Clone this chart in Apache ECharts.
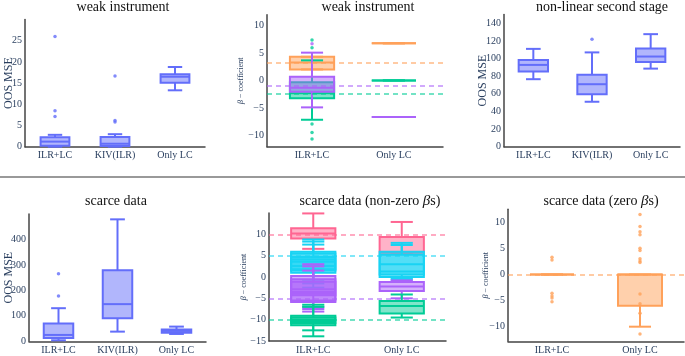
<!DOCTYPE html>
<html><head><meta charset="utf-8">
<script src="https://cdn.jsdelivr.net/npm/echarts@6/dist/echarts.min.js"></script>
<style>html,body{margin:0;padding:0;background:#fff}#c{width:685px;height:356px}</style>
</head><body><div id="c"></div>
<script>
// ---------------- DATA ----------------
const catsMSE = ['ILR+LC', 'KIV(ILR)', 'Only LC'];
const catsBeta = ['ILR+LC', 'Only LC'];

// box stats per category: [lower whisker, Q1, median, Q3, upper whisker]
// Panel 1: weak instrument (OOS MSE)
const weakMseBoxes = [[0.0, 0.25, 1.2, 2.2, 2.8], [0.0, 0.15, 0.7, 2.3, 2.95], [13.3, 15.1, 16.5, 17.1, 18.8]];
const weakMseOutliers = [[7.1, 8.5, 26.0], [5.8, 6.2, 16.7], []];

// Panel 2: weak instrument (beta coefficients)
const weakBetaOrange = [[2.05, 2.05, 3.3, 4.35, 4.35], [6.8, 6.8, 6.8, 6.8, 6.8]];
const weakBetaGreen = [[-7.1, -3.2, -2.3, -0.3, 3.7], [0.05, 0.05, 0.05, 0.05, 0.05]];
const weakBetaPurple = [[-4.85, -2.0, -1.3, 0.72, 5.1], [-6.6, -6.6, -6.6, -6.6, -6.6]];
const weakBetaGreenOut = [[7.4, 6.0, -7.85, -9.4, -10.6], []];
const weakBetaPurpleOut = [[6.7], []];
const weakBetaTrue = [3.3, -2.4, -0.85]; // orange, green, purple

// Panel 3: non-linear second stage (OOS MSE)
const nonlinBoxes = [[76.6, 85.2, 92.8, 98.5, 111], [51, 59.5, 70.9, 81.5, 107], [88.6, 96.2, 102.3, 111.4, 127.7]];
const nonlinOutliers = [[], [122], []];

// Panel 4: scarce data (OOS MSE)
const scarceMseBoxes = [[4, 13, 25, 70, 130], [38, 91, 146, 279, 479], [28.8, 34, 40.7, 46, 57.7]];
const scarceMseOutliers = [[177.6, 265.7], [], []];

// Panel 5: scarce data (non-zero betas) – several coefficients per colour, per category
const scarcePink = [[[6.6, 9.0, 10.2, 11.4, 14.9]], [[5.7, 5.7, 5.8, 9.4, 12.9]]];
const scarceCyan = [[[-2.5, 1.0, 3.6, 5.9, 8.8], [-1.5, 1.5, 4.1, 5.5, 8.3], [-1.0, 1.8, 2.6, 4.7, 7.6]],
                    [[-0.6, 0.0, 1.26, 5.9, 8.0], [-0.3, 0.6, 3.0, 5.2, 7.5]]];
const scarcePurple = [[[-7.5, -5.84, -3.5, 0.23, 3.0], [-8.1, -4.3, -2.9, -0.5, 2.5], [-7.0, -5.5, -3.9, -1.1, 1.5]],
                      [[-5.0, -3.27, -2.25, -1.17, -0.8]]];
const scarceGreen = [[[-13.9, -11.3, -10.1, -9.1, -6.5], [-12.5, -10.8, -10.3, -9.5, -7.0]],
                     [[-9.5, -8.55, -6.8, -5.6, -4.1]]];
const scarceTrue = [10, 5, -5, -10]; // pink, cyan, purple, green

// Panel 6: scarce data (zero betas)
const zeroBoxes = [[0, 0, 0, 0, 0], [-10.0, -6.0, 0, 0, 0]];
const zeroPoints = [[3.3, 2.8, -3.6, -4.1, -4.5, -5.2],
                    [11.5, 9.2, 8.2, 7.6, 5.05, 4.6, 3.0, 2.6, 2.3, -3.75, -5.6, -7.4, -11.4]];
const zeroTrue = [0];

const mseTicks = { p1: [0, 5, 10, 15, 20, 25], p3: [0, 20, 40, 60, 80, 100, 120, 140], p4: [0, 100, 200, 300, 400] };
const betaTicks = { p2: [-10, -5, 0, 5, 10], p5: [-15, -10, -5, 0, 5, 10], p6: [-10, -5, 0, 5, 10] };

// ---------------- STYLE ----------------
const BLUE = '#636EFA', ORANGE = '#FFA15A', PURPLE = '#AB63FA', GREEN = '#00CC96', PINK = '#FF6692', CYAN = '#19D3F3';
const SERIF = '"Liberation Serif", "Times New Roman", serif';
const TXT = '#2a3f5f';
const AXC = '#444';

function hexA(h, a) {
  const n = parseInt(h.slice(1), 16);
  return 'rgba(' + (n >> 16 & 255) + ',' + (n >> 8 & 255) + ',' + (n & 255) + ',' + a + ')';
}

function boxSeries(gi, rows, color, frac) {
  return {
    type: 'custom', xAxisIndex: gi, yAxisIndex: gi, z: 3,
    encode: { x: 0, y: [1, 2, 3, 4, 5] },
    data: rows,
    renderItem: function (params, api) {
      const x = api.value(0);
      const lo = api.coord([x, api.value(1)]), q1 = api.coord([x, api.value(2)]), md = api.coord([x, api.value(3)]),
            q3 = api.coord([x, api.value(4)]), hi = api.coord([x, api.value(5)]);
      const band = api.size([1, 0])[0];
      const hw = band * frac / 2, cw = hw / 2, cx = lo[0];
      const st = { stroke: color, lineWidth: 2, fill: null };
      return { type: 'group', children: [
        { type: 'line', shape: { x1: cx, y1: hi[1], x2: cx, y2: q3[1] }, style: st },
        { type: 'line', shape: { x1: cx, y1: q1[1], x2: cx, y2: lo[1] }, style: st },
        { type: 'line', shape: { x1: cx - cw, y1: hi[1], x2: cx + cw, y2: hi[1] }, style: st },
        { type: 'line', shape: { x1: cx - cw, y1: lo[1], x2: cx + cw, y2: lo[1] }, style: st },
        { type: 'rect', shape: { x: cx - hw, y: q3[1], width: 2 * hw, height: q1[1] - q3[1] }, style: { fill: hexA(color, 0.5), stroke: color, lineWidth: 2 } },
        { type: 'line', shape: { x1: cx - hw, y1: md[1], x2: cx + hw, y2: md[1] }, style: st }
      ] };
    }
  };
}
function rowsOf(boxes) { return boxes.map((b, i) => [i].concat(b)); }
function rowsMulti(perCat) { const r = []; perCat.forEach((list, i) => list.forEach(b => r.push([i].concat(b)))); return r; }
function ptsOf(perCat) { const r = []; perCat.forEach((list, i) => list.forEach(v => r.push([i, v]))); return r; }
function scatter(gi, pts, color, size) {
  return { type: 'scatter', xAxisIndex: gi, yAxisIndex: gi, z: 4, data: pts, symbol: 'circle', symbolSize: size || 3.5,
    itemStyle: { color: color }, silent: true };
}
function hline(gi, v, color) {
  return { type: 'line', xAxisIndex: gi, yAxisIndex: gi, data: [], z: 5,
    markLine: { silent: true, symbol: 'none', label: { show: false },
      lineStyle: { color: hexA(color, 0.55), type: [5, 4], width: 2 }, data: [{ yAxis: v }] } };
}
function xAx(gi, min, max, cats, fs) {
  return { type: 'value', gridIndex: gi, min: min, max: max,
    axisLine: { show: true, onZero: false, lineStyle: { color: AXC, width: 1.5 } },
    axisTick: { show: false }, splitLine: { show: false },
    axisLabel: { customValues: cats.map((c, i) => i), formatter: v => cats[Math.round(v)] || '',
      color: TXT, fontFamily: SERIF, fontSize: fs || 10, margin: 4 } };
}
function fmt(v) { return v < 0 ? '\u2212' + Math.abs(v) : String(v); }
function yAx(gi, min, max, ticks, name, nfs, gap, rich) {
  return { type: 'value', gridIndex: gi, min: min, max: max,
    axisLine: { show: true, onZero: false, lineStyle: { color: AXC, width: 1.5 } },
    axisTick: { show: false }, splitLine: { show: false },
    axisLabel: { customValues: ticks, formatter: fmt, color: TXT, fontFamily: SERIF, fontSize: 10, margin: 3 },
    name: name, nameLocation: 'middle', nameGap: gap, nameMoveOverlap: false,
    nameTextStyle: { color: TXT, fontFamily: SERIF, fontSize: nfs, rich: rich || {} } };
}
const betaRich = { i: { fontStyle: 'italic', fontFamily: SERIF, fontSize: 8, color: TXT } };
const betaName = '{i|\u03b2} \u2212 coefficient';

const grids = [
  { left: 25, top: 19.5, width: 180, height: 127.2 },
  { left: 267, top: 14.7, width: 176, height: 132 },
  { left: 504, top: 14.5, width: 176, height: 132.2 },
  { left: 29, top: 214, width: 177, height: 127.3 },
  { left: 269, top: 213, width: 177, height: 128 },
  { left: 508, top: 209.3, width: 176, height: 132 }
].map(g => Object.assign({ containLabel: false, outerBoundsMode: 'none' }, g));

const xAxes = [
  xAx(0, -0.5, 2.5, catsMSE),
  xAx(1, -0.55, 1.6, catsBeta),
  xAx(2, -0.5, 2.5, catsMSE),
  xAx(3, -0.5, 2.5, catsMSE),
  xAx(4, -0.5, 1.5, catsBeta),
  xAx(5, -0.5, 1.5, catsBeta)
];
const yAxes = [
  yAx(0, 0, 30, mseTicks.p1, 'OOS MSE', 12, 10.5),
  yAx(1, -12, 12, betaTicks.p2, betaName, 8, 22, betaRich),
  yAx(2, 0, 150, mseTicks.p3, 'OOS MSE', 12, 15.5),
  yAx(3, 0, 500, mseTicks.p4, 'OOS MSE', 12, 14.5),
  yAx(4, -15, 15, betaTicks.p5, betaName, 8, 21, betaRich),
  yAx(5, -12.8, 12.5, betaTicks.p6, betaName, 8, 18, betaRich)
];

const series = [
  boxSeries(0, rowsOf(weakMseBoxes), BLUE, 0.48), scatter(0, ptsOf(weakMseOutliers), BLUE),
  boxSeries(1, rowsOf(weakBetaOrange), ORANGE, 0.54),
  boxSeries(1, rowsOf(weakBetaGreen), GREEN, 0.54),
  boxSeries(1, rowsOf(weakBetaPurple), PURPLE, 0.54),
  scatter(1, ptsOf(weakBetaGreenOut), GREEN), scatter(1, ptsOf(weakBetaPurpleOut), PURPLE),
  hline(1, weakBetaTrue[0], ORANGE), hline(1, weakBetaTrue[1], GREEN), hline(1, weakBetaTrue[2], PURPLE),
  boxSeries(2, rowsOf(nonlinBoxes), BLUE, 0.5), scatter(2, ptsOf(nonlinOutliers), BLUE),
  boxSeries(3, rowsOf(scarceMseBoxes), BLUE, 0.5), scatter(3, ptsOf(scarceMseOutliers), BLUE),
  boxSeries(4, rowsMulti(scarcePink), PINK, 0.5),
  boxSeries(4, rowsMulti(scarceCyan), CYAN, 0.5),
  boxSeries(4, rowsMulti(scarcePurple), PURPLE, 0.5),
  boxSeries(4, rowsMulti(scarceGreen), GREEN, 0.5),
  hline(4, scarceTrue[0], PINK), hline(4, scarceTrue[1], CYAN), hline(4, scarceTrue[2], PURPLE), hline(4, scarceTrue[3], GREEN),
  boxSeries(5, rowsOf(zeroBoxes), ORANGE, 0.5), scatter(5, ptsOf(zeroPoints), ORANGE),
  hline(5, zeroTrue[0], ORANGE)
];

const titleFont = '14px ' + SERIF;
function ttl(text, x, y) {
  return { type: 'text', x: x, y: y, silent: true, z: 10,
    style: { text: text, align: 'center', verticalAlign: 'middle', font: titleFont, fill: '#111',
      rich: { i: { fontStyle: 'italic', fontFamily: SERIF, fontSize: 15, fill: '#111' } } } };
}
const graphic = [
  { type: 'line', shape: { x1: 0, y1: 177, x2: 685, y2: 177 }, style: { stroke: '#777', lineWidth: 1.5 }, silent: true },
  ttl('weak instrument', 123, 7),
  ttl('weak instrument', 368, 7),
  ttl('non-linear second stage', 602, 7),
  ttl('scarce data', 116, 201),
  ttl('scarce data (non-zero {i|\u03b2}s)', 370, 201),
  ttl('scarce data (zero {i|\u03b2}s)', 601, 201)
];

const chart = echarts.init(document.getElementById('c'), null, { renderer: 'canvas' });
chart.setOption({
  animation: false, backgroundColor: '#fff',
  grid: grids, xAxis: xAxes, yAxis: yAxes, series: series, graphic: graphic
});
</script></body></html>
